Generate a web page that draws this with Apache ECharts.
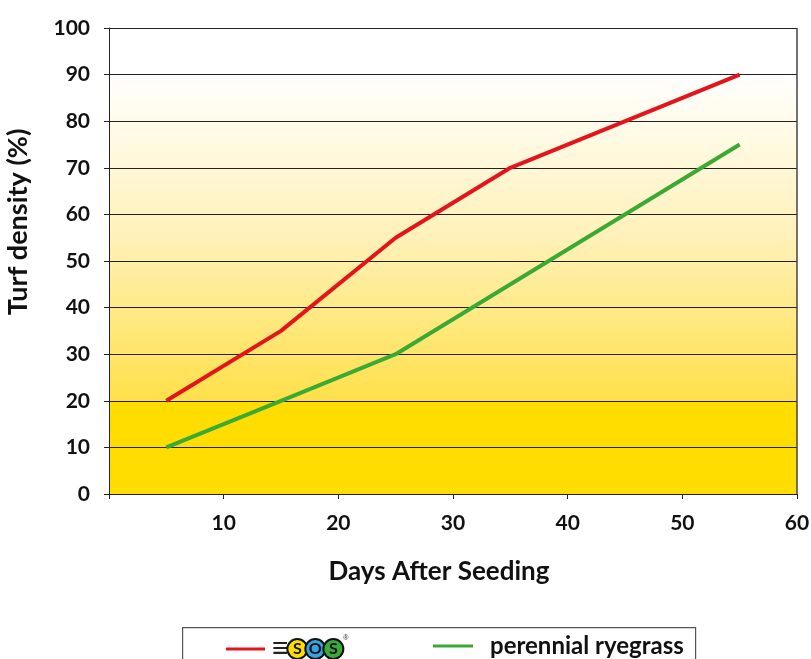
<!DOCTYPE html>
<html>
<head>
<meta charset="utf-8">
<script src="https://cdn.jsdelivr.net/npm/echarts@6/dist/echarts.min.js"></script>
<style>html,body{margin:0;padding:0;background:#fff}#c{width:811px;height:659px}</style>
</head>
<body>
<div id="c"></div>
<script>
const xTicks = [0, 10, 20, 30, 40, 50, 60];
const sosData = [[5, 20], [15, 35], [25, 55], [35, 70], [55, 90]];
const ryegrassData = [[5, 10], [15, 20], [25, 30], [55, 75]];
const seriesNames = ['SOS', 'perennial ryegrass'];
const xTitle = 'Days After Seeding';
const yTitle = 'Turf density (%)';

const FONT = 'Lato, "DejaVu Sans", sans-serif';
const chart = echarts.init(document.getElementById('c'));
const circle = (bg) => ({
  width: 18, height: 18, borderRadius: 11, backgroundColor: bg,
  borderColor: '#111', borderWidth: 2, align: 'center', verticalAlign: 'middle',
  fontWeight: 'bold', fontSize: 16, color: '#111', lineHeight: 18, fontFamily: FONT
});
chart.setOption({
  animation: false,
  backgroundColor: '#fff',
  grid: {
    left: 109, right: 14, top: 28, bottom: 165, show: true, borderWidth: 0,
    containLabel: false, outerBoundsMode: 'none',
    backgroundColor: {
      type: 'linear', x: 0, y: 0, x2: 0, y2: 1,
      colorStops: [
        { offset: 0, color: '#ffffff' },
        { offset: 0.1, color: '#ffffff' },
        { offset: 0.45, color: '#fff1b8' },
        { offset: 0.8, color: '#ffe04a' },
        { offset: 0.8, color: '#ffdd00' },
        { offset: 1, color: '#ffdd00' }
      ]
    }
  },
  graphic: [
    { type: 'rect', left: 182, top: 627, shape: { width: 513, height: 60 },
      style: { fill: '#fff', stroke: '#555', lineWidth: 1.2 }, z: 0 }
  ],
  legend: [
    {
      data: [seriesNames[0]], left: 226, top: 635, padding: 0, icon: 'rect', itemWidth: 39, itemHeight: 3,
      itemGap: 0, z: 5,
      formatter: () => '{l|≡}{a|S}{b|O}{c|S}{r|®}',
      textStyle: {
        rich: {
          l: { fontSize: 28, color: '#222', fontWeight: 'bold', padding: [0, 0, 0, 2] },
          a: circle('#ffdd00'), b: circle('#3ba0e0'), c: circle('#3aab3a'),
          r: { fontSize: 7, color: '#222', verticalAlign: 'top', padding: [0, 0, 16, 1] }
        }
      }
    },
    {
      data: [seriesNames[1]], left: 433, top: 634, padding: 0, icon: 'rect', itemWidth: 40, itemHeight: 3,
      itemGap: 0, z: 5,
      textStyle: { fontFamily: FONT, fontWeight: 'bold', fontSize: 24, color: '#111', padding: [0, 0, 0, 12] }
    }
  ],
  xAxis: {
    type: 'value', min: 0, max: 60, interval: 10,
    name: xTitle, nameLocation: 'middle', nameGap: 65,
    nameTextStyle: { fontFamily: FONT, fontWeight: 'bold', fontSize: 26, color: '#111', padding: [0, 28, 0, 0] },
    axisLine: { show: true, lineStyle: { color: '#222', width: 1 } },
    axisTick: { show: true, length: 5, lineStyle: { color: '#222' } },
    axisLabel: {
      margin: 19, fontFamily: FONT, fontWeight: 'bold', fontSize: 21, color: '#111',
      formatter: (v) => v === 0 ? '' : String(v)
    },
    splitLine: { show: false }
  },
  yAxis: {
    type: 'value', min: 0, max: 100, interval: 10,
    name: yTitle, nameLocation: 'middle', nameGap: 77, nameRotate: 90,
    nameTextStyle: { fontFamily: FONT, fontWeight: 'bold', fontSize: 27, color: '#111', padding: [0, 0, 0, 78] },
    axisLine: { show: true, lineStyle: { color: '#222', width: 1 } },
    axisTick: { show: true, length: 5, lineStyle: { color: '#222' } },
    axisLabel: { margin: 19, fontFamily: FONT, fontWeight: 'bold', fontSize: 21, color: '#111' },
    splitLine: { show: true, lineStyle: { color: '#222', width: 1 } }
  },
  series: [
    { name: seriesNames[0], type: 'line', data: sosData, showSymbol: false, symbol: 'none',
      lineStyle: { color: '#e4141b', width: 4 }, itemStyle: { color: '#e4141b' }, z: 3 },
    { name: seriesNames[1], type: 'line', data: ryegrassData, showSymbol: false, symbol: 'none',
      lineStyle: { color: '#3aaa35', width: 4 }, itemStyle: { color: '#3aaa35' }, z: 3 },
    { type: 'line', data: [[60, 0], [60, 100]], symbol: 'none', silent: true,
      lineStyle: { color: '#444', width: 1.5 }, z: 2, tooltip: { show: false } }
  ]
});
</script>
</body>
</html>
